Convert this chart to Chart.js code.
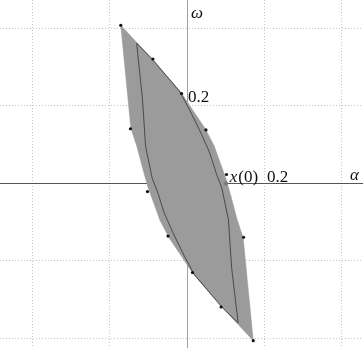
<!DOCTYPE html>
<html>
<head>
<meta charset="utf-8">
<script src="https://cdn.jsdelivr.net/npm/chart.js@4/dist/chart.umd.min.js"></script>
<style>
  html, body { margin: 0; padding: 0; background: #fff; }
  #wrap { width: 363px; height: 348px; }
</style>
</head>
<body>
<div id="wrap"><canvas id="c" width="363" height="348"></canvas></div>
<script>
// Outer reachable set boundary (alpha, omega), closed polygon
const outerAlpha = [-0.171, -0.090, -0.016, 0.015, 0.046, 0.070, 0.085, 0.101, 0.114, 0.129, 0.145, 0.171,
                    0.090, 0.016, -0.015, -0.046, -0.070, -0.085, -0.101, -0.114, -0.129, -0.145, -0.171];
const outerOmega = [0.407, 0.320, 0.235, 0.188, 0.142, 0.096, 0.054, 0.010, -0.036, -0.093, -0.142, -0.407,
                    -0.320, -0.235, -0.188, -0.142, -0.096, -0.054, -0.010, 0.036, 0.093, 0.142, 0.407];
// Inner set boundary (closed polygon outline)
const innerAlpha = [-0.130, -0.090, -0.018, 0.008, 0.036, 0.059, 0.075, 0.090, 0.098, 0.107, 0.112, 0.115, 0.132,
                    0.090, 0.018, -0.008, -0.036, -0.059, -0.075, -0.090, -0.098, -0.107, -0.112, -0.115, -0.130];
const innerOmega = [0.361, 0.320, 0.235, 0.186, 0.129, 0.077, 0.026, -0.013, -0.052, -0.095, -0.173, -0.217, -0.361,
                    -0.320, -0.235, -0.186, -0.129, -0.077, -0.026, 0.013, 0.052, 0.095, 0.173, 0.217, 0.361];
// Sample points (black dots)
const dotAlpha = [-0.171, -0.088, -0.014, 0.049, 0.102, 0.146, 0.171, 0.088, 0.014, -0.049, -0.102, -0.146];
const dotOmega = [0.407, 0.320, 0.231, 0.137, 0.022, -0.140, -0.407, -0.320, -0.231, -0.137, -0.022, 0.140];
// Initial state x(0)
const x0Alpha = [0.100];
const x0Omega = [-0.001];
// Axis ticks
const tickValues = [-0.4, -0.2, 0, 0.2, 0.4];
const tickLabelText = '0.2';

const pts = (a, b) => a.map((v, i) => ({ x: v, y: b[i] }));

const labelPlugin = {
  id: 'labels',
  afterDatasetsDraw(chart) {
    const ctx = chart.ctx;
    const xs = chart.scales.x, ys = chart.scales.y;
    const x0 = xs.getPixelForValue(0), y0 = ys.getPixelForValue(0);
    const x02 = xs.getPixelForValue(0.2), y02 = ys.getPixelForValue(0.2);
    const xi = xs.getPixelForValue(x0Alpha[0]);
    ctx.save();
    ctx.fillStyle = '#111';
    ctx.textBaseline = 'alphabetic';
    ctx.textAlign = 'left';
    const it = 'italic 17px "Liberation Serif", "DejaVu Serif", serif';
    const rm = '17px "Liberation Serif", "DejaVu Serif", serif';
    // omega axis label
    ctx.font = it; ctx.fillText('ω', x0 + 4, 18);
    // 0.2 on omega axis
    ctx.font = rm; ctx.fillText(tickLabelText, x0 + 1, y02 - 4);
    // x(0) label
    let px = xi + 4;
    ctx.font = it; ctx.fillText('x', px, y0 - 1.5);
    px += ctx.measureText('x').width + 1;
    ctx.font = rm; ctx.fillText('(0)', px, y0 - 1.5);
    // 0.2 on alpha axis
    ctx.fillText(tickLabelText, x02 + 2.5, y0 - 1.5);
    // alpha axis label
    ctx.font = it; ctx.fillText('α', chart.chartArea.right - 13, y0 - 3);
    ctx.restore();
  }
};

const gridOpts = (axisColor) => ({
  display: true,
  drawTicks: false,
  color: (c) => (c.tick && Math.abs(c.tick.value) < 1e-9) ? axisColor : '#c4c4c4',
  lineWidth: 1
});

new Chart(document.getElementById('c'), {
  type: 'scatter',
  data: {
    datasets: [
      {
        type: 'line',
        data: pts(outerAlpha, outerOmega),
        showLine: true,
        fill: 'shape',
        backgroundColor: '#9b9b9b',
        borderColor: '#9b9b9b',
        borderWidth: 0.5,
        pointRadius: 0,
        tension: 0,
        order: 4
      },
      {
        type: 'line',
        data: pts(innerAlpha, innerOmega),
        showLine: true,
        fill: false,
        borderColor: '#4a4a4a',
        borderWidth: 1,
        pointRadius: 0,
        tension: 0,
        order: 3
      },
      {
        data: pts(dotAlpha, dotOmega),
        backgroundColor: '#111',
        borderColor: '#111',
        pointRadius: 1.6,
        borderWidth: 0,
        order: 2
      },
      {
        data: pts(x0Alpha, x0Omega),
        backgroundColor: '#7a7a7a',
        borderColor: '#7a7a7a',
        pointRadius: 2.2,
        borderWidth: 0,
        order: 1
      }
    ]
  },
  options: {
    responsive: false,
    animation: false,
    events: [],
    layout: { padding: 0, autoPadding: false },
    plugins: { legend: { display: false }, tooltip: { enabled: false } },
    scales: {
      x: {
        type: 'linear',
        min: -0.4826, max: 0.4542,
        afterBuildTicks: (s) => { s.ticks = tickValues.map(v => ({ value: v })); },
        ticks: { display: false, includeBounds: false },
        grid: gridOpts('#a0a0a0'),
        border: { display: false, dash: (c) => (c.tick && Math.abs(c.tick.value) < 1e-9) ? [] : [1, 2] },
        afterFit: (s) => { s.height = 0; }
      },
      y: {
        type: 'linear',
        min: -0.4258, max: 0.4723,
        afterBuildTicks: (s) => { s.ticks = tickValues.map(v => ({ value: v })); },
        ticks: { display: false, includeBounds: false },
        grid: gridOpts('#555555'),
        border: { display: false, dash: (c) => (c.tick && Math.abs(c.tick.value) < 1e-9) ? [] : [1, 2] },
        afterFit: (s) => { s.width = 0; }
      }
    }
  },
  plugins: [labelPlugin]
});
</script>
</body>
</html>
